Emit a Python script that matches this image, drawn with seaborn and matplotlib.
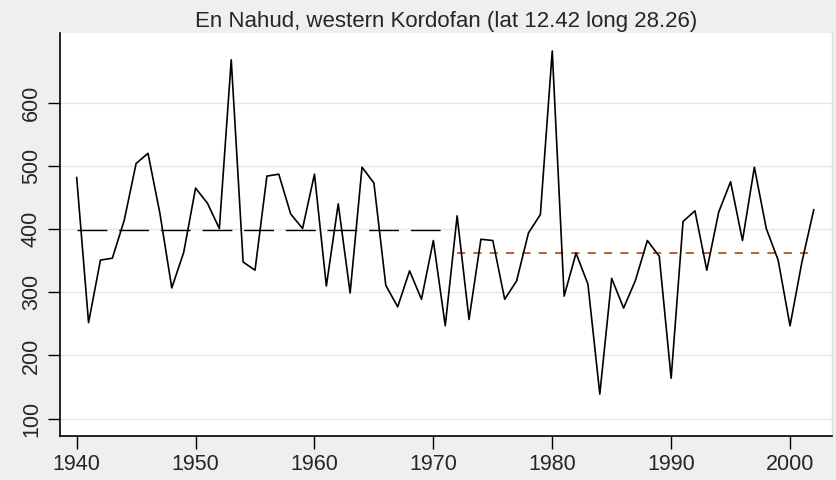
import numpy as np
import pandas as pd
import matplotlib
matplotlib.use("Agg")
import matplotlib.pyplot as plt
import seaborn as sns

# annual rainfall, En Nahud
years = list(range(1940, 2003))
rain = [482, 252, 351, 354, 414, 504, 520, 425, 307, 363,
        465, 441, 401, 668, 348, 335, 484, 487, 424, 401,
        487, 310, 440, 299, 498, 473, 311, 277, 334, 289,
        382, 247, 421, 257, 384, 382, 289, 318, 394, 423,
        682, 294, 362, 313, 139, 322, 275, 319, 382, 357,
        164, 412, 429, 335, 427, 475, 382, 498, 401, 351,
        247, 348, 431]
split_year = 1972
title = "En Nahud, western Kordofan (lat 12.42 long 28.26)"
yticks = [100, 200, 300, 400, 500, 600]
xticks = [1940, 1950, 1960, 1970, 1980, 1990, 2000]

df = pd.DataFrame({"year": years, "rain": rain})
early = df[df.year < split_year].copy()
late = df[df.year >= split_year].copy()
early["mean"] = early.rain.mean()
late["mean"] = late.rain.mean()

sns.set_style("white")
plt.rcParams["font.family"] = ["Liberation Sans", "DejaVu Sans"]

fig = plt.figure(figsize=(8.36, 4.8), dpi=100, facecolor="#EFEFEF")
ax = fig.add_axes([0.0718, 0.0917, 0.923, 0.84])
ax.set_facecolor("white")

for y in yticks:
    ax.axhline(y, color="#E6E6E6", lw=1.0, zorder=0)

sns.lineplot(data=df, x="year", y="rain", color="black", lw=1.2, ax=ax, zorder=3)
sns.lineplot(data=early, x="year", y="mean", color="black", lw=1.0,
             ax=ax, zorder=2).lines[-1].set_dashes((21.5, 8.5))
sns.lineplot(data=late, x="year", y="mean", color="#B5603C", lw=1.4,
             ax=ax, zorder=2).lines[-1].set_dashes((4.2, 4.2))

ax.set_xlim(1938.6, 2003.5)
ax.set_ylim(72.6, 710.8)
ax.set_xticks(xticks)
ax.set_yticks(yticks)
ax.set_yticklabels([str(v) for v in yticks], rotation=90, va="center")
ax.tick_params(axis="both", direction="out", length=9, width=1.0,
               color="black", labelsize=15.5, pad=4, left=True, bottom=True)
ax.set_xlabel("")
ax.set_ylabel("")
ax.spines["top"].set_visible(False)
ax.spines["right"].set_color("#E0E0E0")
ax.spines["right"].set_linewidth(1.0)
for side in ["left", "bottom"]:
    ax.spines[side].set_color("black")
    ax.spines[side].set_linewidth(1.2)

fig.text(0.534, 0.955, title, ha="center", va="center", fontsize=16)

fig.savefig("out.png", dpi=100, facecolor=fig.get_facecolor())
